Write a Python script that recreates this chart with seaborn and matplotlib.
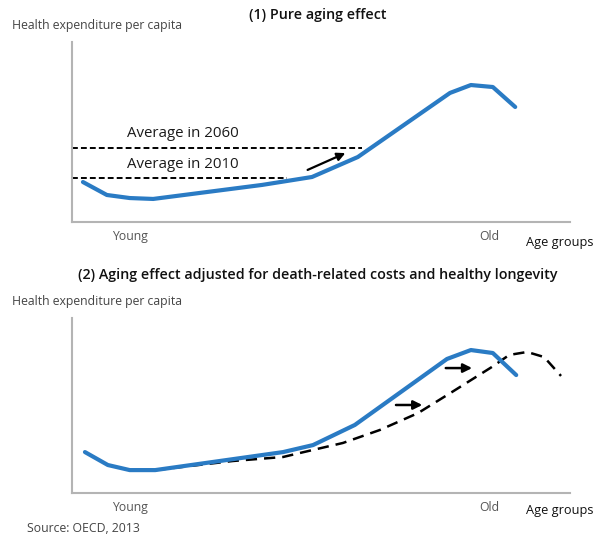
import numpy as np
import pandas as pd
import matplotlib
matplotlib.use("Agg")
import matplotlib.pyplot as plt
import seaborn as sns

# age position (0 = youngest, 100 = oldest) and spending index
ageTop = [2.2, 7.0, 11.6, 16.3, 38.2, 48.2, 57.4, 75.9, 80.1, 84.5, 89.0]
spendTop = [22.2, 15.0, 13.3, 12.8, 20.6, 25.0, 36.1, 71.7, 76.1, 75.0, 63.9]

ageBottom = [2.6, 7.2, 11.6, 16.7, 42.4, 48.4, 56.8, 75.3, 80.1, 84.5, 89.2]
spendBottom = [23.4, 16.0, 13.1, 13.1, 23.4, 27.4, 38.9, 76.6, 81.7, 80.0, 67.4]

ageAdjusted = [16.7, 32.3, 42.4, 45.8, 54.4, 61.8, 69.5, 76.3, 84.3, 87.8, 91.4, 94.8, 98.2]
spendAdjusted = [13.1, 18.3, 20.6, 22.9, 28.6, 36.0, 45.7, 57.7, 72.0, 78.9, 80.6, 77.7, 66.9]

avgLabels = ["Average in 2060", "Average in 2010"]
avgValues = [41.1, 24.4]
avgEnds = [58.2, 43.2]

tickPos = [11.6, 83.9]
tickLabels = ["Young", "Old"]

blue = "#2a7bc4"
grey = "#b4b4b4"

sns.set_style("white")
plt.rcParams["font.family"] = ["Open Sans", "DejaVu Sans"]

fig = plt.figure(figsize=(6.01, 5.38), dpi=100)
axTop = fig.add_axes([0.1198, 0.5874, 0.8286, 0.3345])
axBot = fig.add_axes([0.1198, 0.0836, 0.8286, 0.3253])

dfTop = pd.DataFrame({"age": ageTop, "spend": spendTop})
dfBot = pd.DataFrame({"age": ageBottom, "spend": spendBottom})
dfAdj = pd.DataFrame({"age": ageAdjusted, "spend": spendAdjusted})

# panel 1
for lab, val, end, ty in zip(avgLabels, avgValues, avgEnds, [49.4, 31.7]):
    axTop.plot([0, end], [val, val], color="black", lw=1.4, ls=(0, (3, 1.6)))
    axTop.text(11, ty, lab, fontsize=10.8, va="center", ha="left", color="#1a1a1a")
sns.lineplot(data=dfTop, x="age", y="spend", ax=axTop, color=blue, lw=3.0,
             sort=False, solid_capstyle="round", solid_joinstyle="round")
axTop.annotate("", xy=(55.4, 38.9), xytext=(46.8, 28.3),
               arrowprops=dict(arrowstyle="-|>", color="black", lw=1.6, mutation_scale=12))

# panel 2
sns.lineplot(data=dfAdj, x="age", y="spend", ax=axBot, color="black", lw=1.8,
             sort=False, dashes=False, linestyle=(0, (4.5, 2.8)))
sns.lineplot(data=dfBot, x="age", y="spend", ax=axBot, color=blue, lw=3.0,
             sort=False, solid_capstyle="round", solid_joinstyle="round")
for x0, x1, yy in [(64.5, 70.9, 50.3), (74.5, 80.9, 71.4)]:
    axBot.annotate("", xy=(x1, yy), xytext=(x0, yy),
                   arrowprops=dict(arrowstyle="-|>", color="black", lw=1.8, mutation_scale=13))

for ax in (axTop, axBot):
    ax.set_xlim(0, 100)
    ax.set_ylim(0, 100)
    ax.set_xticks(tickPos)
    ax.set_xticklabels(tickLabels, fontsize=8.8, color="#555555")
    ax.set_yticks([])
    ax.tick_params(axis="x", length=0, pad=6)
    ax.set_xlabel("")
    ax.set_ylabel("")
    sns.despine(ax=ax)
    for s in ("left", "bottom"):
        ax.spines[s].set_color(grey)
        ax.spines[s].set_linewidth(1.5)

fig.text(0.529, 0.972, "(1) Pure aging effect", fontsize=10.3, fontweight="semibold",
         ha="center", va="center", color="#111111")
fig.text(0.529, 0.489, "(2) Aging effect adjusted for death-related costs and healthy longevity",
         fontsize=10.3, fontweight="semibold", ha="center", va="center", color="#111111")
fig.text(0.02, 0.952, "Health expenditure per capita", fontsize=8.8, ha="left", va="center", color="#444444")
fig.text(0.02, 0.439, "Health expenditure per capita", fontsize=8.8, ha="left", va="center", color="#444444")
fig.text(0.987, 0.550, "Age groups", fontsize=9.2, ha="right", va="center", color="#111111")
fig.text(0.987, 0.052, "Age groups", fontsize=9.2, ha="right", va="center", color="#111111")
fig.text(0.045, 0.018, "Source: OECD, 2013", fontsize=8.8, ha="left", va="center", color="#444444")

fig.savefig("out.png", dpi=100)
